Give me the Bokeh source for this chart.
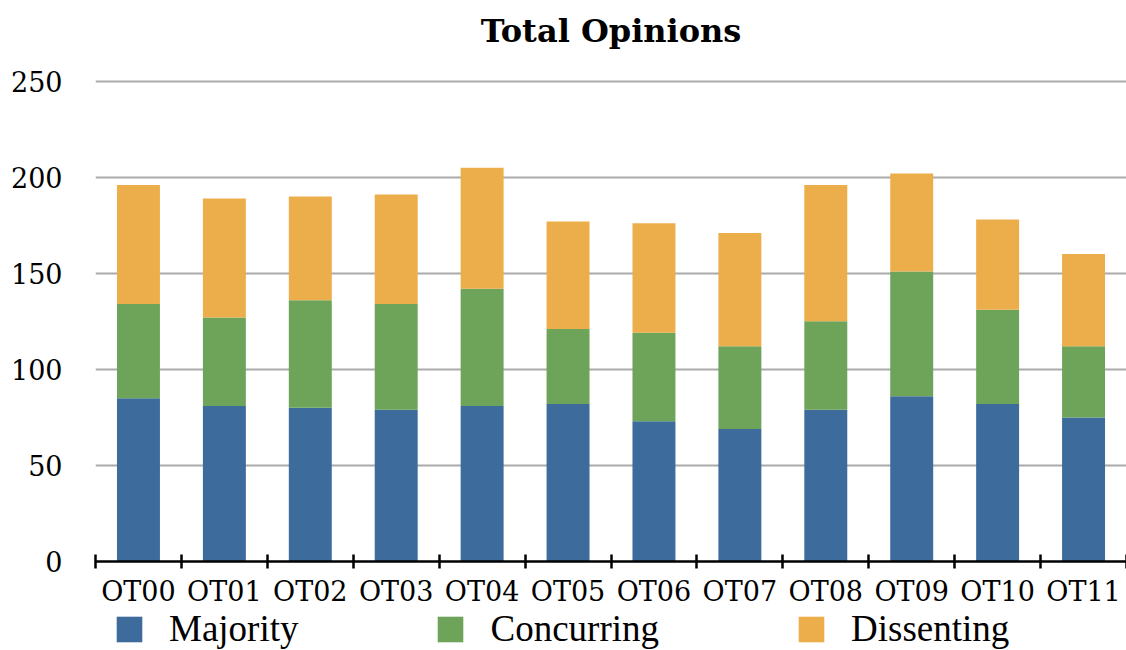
from bokeh.plotting import figure
from bokeh.layouts import column
from bokeh.models import (FixedTicker, Legend, LegendItem, Range1d,
                          ColumnDataSource, Label)
from bokeh.embed import file_html
from bokeh.resources import INLINE

terms = ["OT00", "OT01", "OT02", "OT03", "OT04", "OT05",
         "OT06", "OT07", "OT08", "OT09", "OT10", "OT11"]
majority = [85, 81, 80, 79, 81, 82, 73, 69, 79, 86, 82, 75]
concurring = [49, 46, 56, 55, 61, 39, 46, 43, 46, 65, 49, 37]
dissenting = [62, 62, 54, 57, 63, 56, 57, 59, 71, 51, 47, 48]
series = ["Majority", "Concurring", "Dissenting"]
colors = ["#3c6b9c", "#6da45a", "#ecae4b"]
y_ticks = [0, 50, 100, 150, 200, 250]
title_text = "Total Opinions"

x = [i + 0.5 for i in range(len(terms))]
source = ColumnDataSource(dict(x=x, Majority=majority,
                               Concurring=concurring, Dissenting=dissenting))

SERIF = "DejaVu Serif"

# frame reaches the top of the page; the empty headroom above 250 holds the title
p = figure(width=1126, height=609,
           x_range=Range1d(0, len(terms)), y_range=Range1d(0, 292),
           output_backend="svg", toolbar_location=None,
           min_border_left=95, min_border_right=0,
           min_border_top=0, min_border_bottom=48)

p.vbar_stack(series, x="x", width=0.5, color=colors,
             line_color=None, source=source)

p.add_layout(Label(x=len(terms) / 2, y=531, y_units="screen",
                   text=title_text, text_font=SERIF, text_font_size="32px",
                   text_font_style="bold", text_color="black",
                   text_align="center", text_baseline="middle"))

p.outline_line_color = None
p.background_fill_color = "white"
p.xgrid.grid_line_color = None
p.ygrid.grid_line_color = "#aaaaaa"
p.ygrid.grid_line_width = 2

yax = p.yaxis[0]
yax.ticker = FixedTicker(ticks=y_ticks)
yax.axis_line_color = None
yax.major_tick_line_color = None
yax.minor_tick_line_color = None
yax.major_label_text_font = SERIF
yax.major_label_text_font_size = "27px"
yax.major_label_text_color = "black"
yax.major_label_standoff = 27

xax = p.xaxis[0]
xax.ticker = FixedTicker(ticks=x, minor_ticks=list(range(len(terms) + 1)))
xax.major_label_overrides = {xi: t for xi, t in zip(x, terms)}
xax.major_tick_in = 0
xax.major_tick_out = 0
xax.minor_tick_in = 7
xax.minor_tick_out = 7
xax.minor_tick_line_color = "black"
xax.minor_tick_line_width = 2.5
xax.axis_line_color = "black"
xax.axis_line_width = 2.5
xax.major_label_text_font = SERIF
xax.major_label_text_font_size = "27px"
xax.major_label_text_color = "black"
xax.major_label_standoff = 7

# legend strip below the chart: hidden copies of the stacks provide the swatches
lg = figure(width=1126, height=41, x_range=Range1d(0, len(terms)),
            y_range=Range1d(0, 250), output_backend="svg",
            toolbar_location=None, min_border=0)
lg.axis.visible = False
lg.grid.grid_line_color = None
lg.outline_line_color = None
swatches = lg.vbar_stack(series, x="x", width=0.5, color=colors,
                         line_color=None, source=source, visible=False)

legend = Legend(items=[LegendItem(label=s, renderers=[r])
                       for s, r in zip(series, swatches)],
                orientation="horizontal", location=(18, 0),
                spacing=136, label_standoff=24,
                glyph_width=32, glyph_height=32,
                label_text_font="Liberation Serif",
                label_text_font_size="37px",
                label_text_color="black",
                inactive_fill_alpha=0,
                border_line_color=None, background_fill_alpha=0,
                padding=0, margin=0)
lg.add_layout(legend, "center")

layout = column(p, lg, spacing=0)
open("out.html", "w").write(file_html(layout, INLINE))
